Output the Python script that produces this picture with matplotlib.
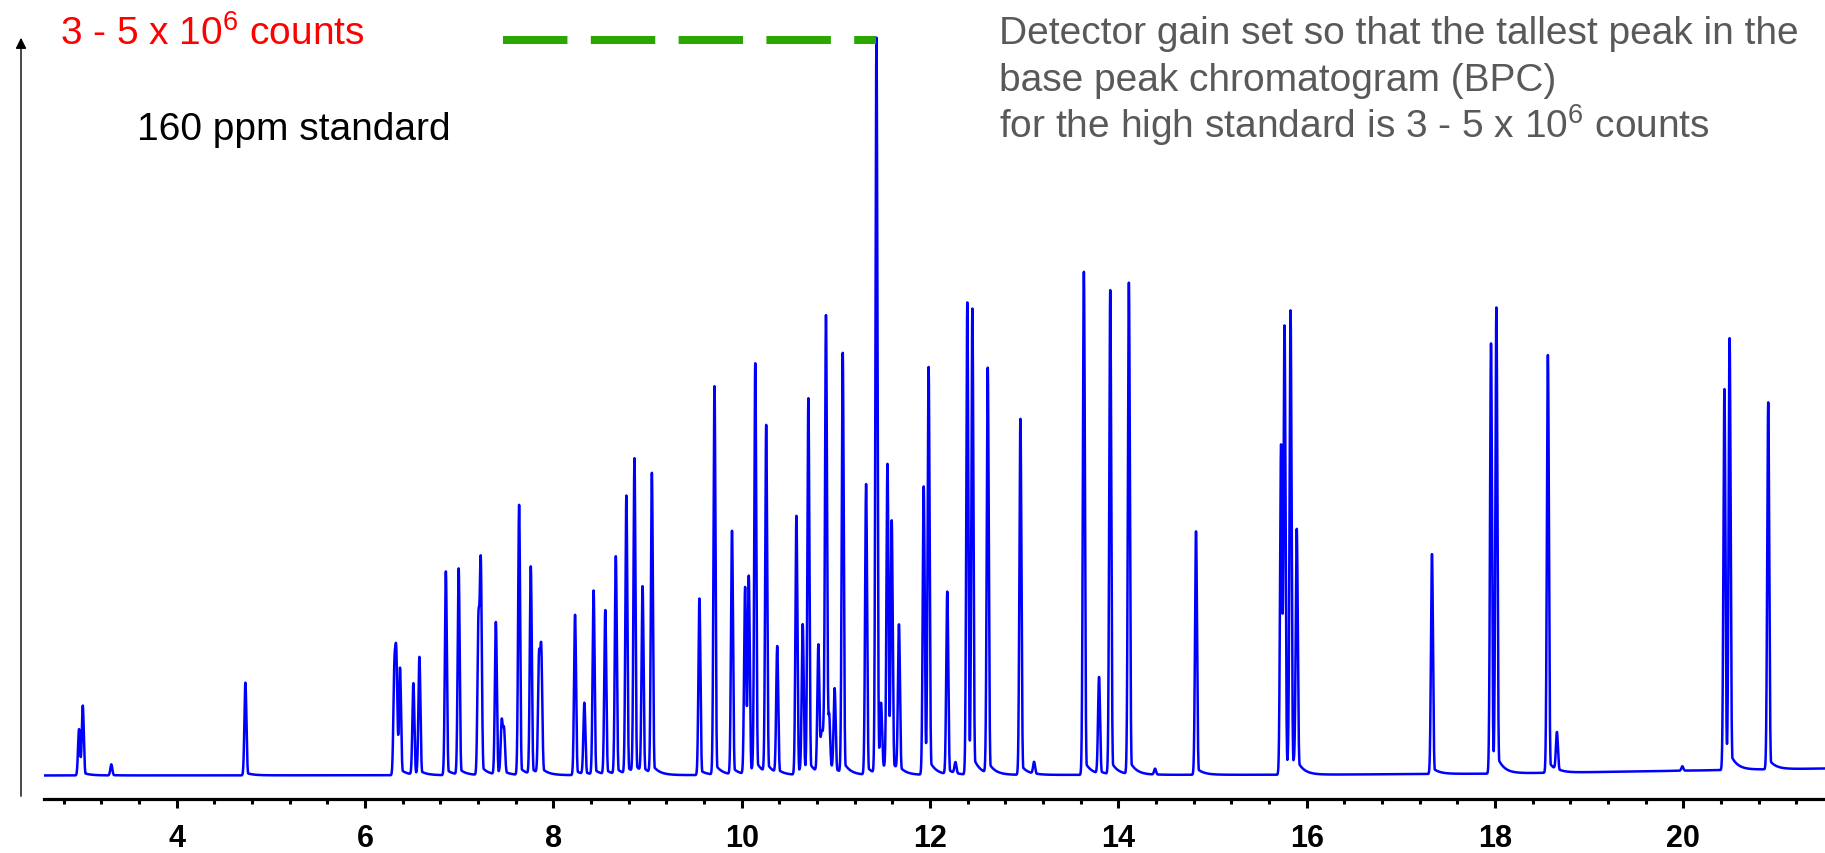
import numpy as np
import matplotlib
matplotlib.use("Agg")
import matplotlib.pyplot as plt
from matplotlib.ticker import MultipleLocator

plt.rcParams['font.family'] = ['Liberation Sans', 'DejaVu Sans']
plt.rcParams['mathtext.fontset'] = 'custom'
plt.rcParams['mathtext.rm'] = 'Liberation Sans'

# peak table: retention time (min), height (% of tallest)
peak_rt = [2.962, 3.002, 3.305, 4.729, 6.311, 6.332, 6.371, 6.513, 6.577, 6.858,
           6.994, 7.204, 7.229, 7.389, 7.451, 7.476, 7.636, 7.760, 7.847, 7.871,
           8.230, 8.329, 8.427, 8.551, 8.663, 8.775, 8.861, 8.947, 9.046, 9.551,
           9.711, 9.897, 10.036, 10.075, 10.144, 10.260, 10.377, 10.581, 10.648, 10.708,
           10.814, 10.846, 10.867, 10.895, 10.928, 10.987, 11.073, 11.321, 11.431, 11.480,
           11.548, 11.593, 11.670, 11.933, 11.985, 12.183, 12.270, 12.396, 12.450, 12.613,
           12.960, 13.105, 13.634, 13.795, 13.914, 14.112, 14.390, 14.825, 15.728, 15.765,
           15.829, 15.895, 17.331, 17.958, 18.015, 18.562, 18.658, 19.990, 20.437, 20.492,
           20.902]
peak_height = [6.3, 9.4, 1.5, 12.6, 13.6, 15.4, 14.2, 12.4, 15.9, 27.7,
               28.0, 20.4, 28.5, 20.7, 7.0, 5.9, 36.7, 28.2, 15.3, 16.5,
               21.8, 9.7, 25.0, 22.3, 29.6, 37.8, 42.7, 25.2, 40.8, 24.0,
               52.8, 33.1, 25.4, 26.6, 55.5, 47.2, 17.2, 35.2, 20.1, 50.8,
               17.3, 4.7, 4.2, 62.0, 7.0, 11.1, 57.1, 39.5, 100.0, 8.2,
               41.6, 33.6, 19.8, 39.2, 54.9, 24.8, 1.5, 64.2, 62.5, 55.1,
               48.4, 1.6, 68.4, 13.1, 65.8, 66.8, 0.8, 33.1, 44.8, 60.3,
               62.1, 32.3, 29.9, 58.5, 62.6, 56.8, 5.1, 0.6, 51.8, 58.0,
               49.9]

# baseline drift read at a few retention times
base_rt = [2.59, 16.0, 18.0, 19.5, 21.5]
base_level = [0.0, 0.1, 0.25, 0.55, 0.95]

tick_values = [4, 6, 8, 10, 12, 14, 16, 18, 20]

note_lines = ['Detector gain set so that the tallest peak in the',
              'base peak chromatogram (BPC)',
              r'for the high standard is 3 - 5 x 10$^{\mathregular{6}}$ counts']

t = np.arange(2.59, 21.505, 0.001)
signal = np.interp(t, base_rt, base_level)
sigma = 0.0105
for rt, h in zip(peak_rt, peak_height):
    d = t - rt
    g = np.exp(-0.5 * (d / sigma) ** 2)
    tail = np.where(d > 0, 0.03 * np.exp(-d / 0.07), 0.0)
    signal += h * np.maximum(g, tail)

fig = plt.figure(figsize=(18.25, 8.54), dpi=100)
ax = fig.add_axes([44 / 1825, 54 / 854, 1781 / 1825, 770 / 854])
ax.plot(t, signal, color='#0000ff', lw=1.8)

# level of the tallest peak
ax.plot([7.465, peak_rt[48]], [100, 100], color='#2ca600', lw=5.8,
        dashes=(8, 2.9), solid_capstyle='butt', dash_capstyle='butt')

ax.set_xlim(2.59, 21.505)
ax.set_ylim(-3.2, 101.5)
for s in ['left', 'top', 'right']:
    ax.spines[s].set_visible(False)
ax.spines['bottom'].set_linewidth(2.3)
ax.set_yticks([])
ax.xaxis.set_minor_locator(MultipleLocator(0.4))
ax.set_xticks(tick_values)
ax.tick_params(axis='x', which='major', length=6.5, width=2.2, pad=11)
ax.tick_params(axis='x', which='minor', length=3.6, width=2.2)
for lab in ax.get_xticklabels():
    lab.set_fontweight('bold')
    lab.set_fontsize(22)

# y axis arrow
ax.annotate('', xy=(21, 854 - 36), xytext=(21, 854 - 800),
            xycoords='figure pixels', textcoords='figure pixels',
            arrowprops=dict(arrowstyle='-|>', lw=1.0, color='black',
                            mutation_scale=16))

fig.text(60 / 1825, 1 - 45 / 854, r'3 - 5 x 10$^{\mathregular{6}}$ counts',
         color='#ff0000', fontsize=28, va='baseline')
fig.text(137 / 1825, 1 - 140 / 854, '160 ppm standard',
         color='black', fontsize=28, va='baseline')
for i, line in enumerate(note_lines):
    fig.text(999 / 1825, 1 - (44 + 47 * i) / 854, line,
             color='#595959', fontsize=28, va='baseline')

fig.savefig('out.png', dpi=100)
